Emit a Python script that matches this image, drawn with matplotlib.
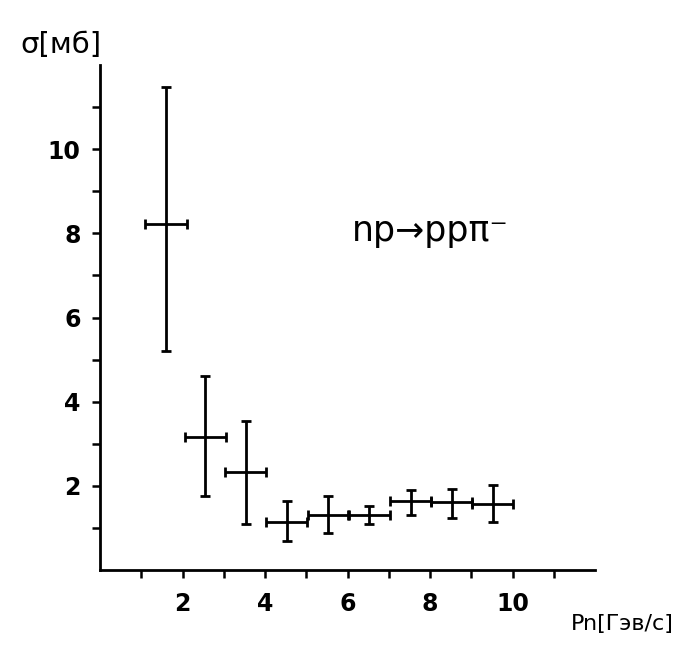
import matplotlib
matplotlib.use("Agg")
import matplotlib.pyplot as plt

# data: np -> pp pi- cross section vs neutron momentum
p_n = [1.6, 2.55, 3.53, 4.52, 5.53, 6.52, 7.53, 8.52, 9.52]
p_err = [0.5, 0.5, 0.5, 0.5, 0.5, 0.5, 0.5, 0.5, 0.5]
sigma = [8.22, 3.16, 2.32, 1.15, 1.30, 1.30, 1.65, 1.61, 1.57]
sigma_lo = [5.21, 1.77, 1.09, 0.70, 0.89, 1.09, 1.31, 1.23, 1.13]
sigma_hi = [11.47, 4.61, 3.54, 1.65, 1.75, 1.51, 1.91, 1.93, 2.03]

major_x = [2, 4, 6, 8, 10]
minor_x = [1, 3, 5, 7, 9, 11]
major_y = [2, 4, 6, 8, 10]
minor_y = [1, 3, 5, 7, 9, 11]

font = ["Liberation Sans Narrow", "DejaVu Sans"]

fig = plt.figure(figsize=(6.81, 6.47), dpi=100)
ax = fig.add_axes([0.1468, 0.119, 0.7272, 0.7805])

yerr = [[s - lo for s, lo in zip(sigma, sigma_lo)],
        [hi - s for s, hi in zip(sigma, sigma_hi)]]
ax.errorbar(p_n, sigma, xerr=p_err, yerr=yerr, fmt="none", ecolor="black",
            elinewidth=2.0, capsize=3.5, capthick=2.0)

ax.set_xlim(0, 12)
ax.set_ylim(0, 12)
for side in ["top", "right"]:
    ax.spines[side].set_visible(False)
for side in ["left", "bottom"]:
    ax.spines[side].set_linewidth(2.0)

ax.set_xticks(major_x)
ax.set_xticks(minor_x, minor=True)
ax.set_yticks(major_y)
ax.set_yticks(minor_y, minor=True)
ax.tick_params(which="both", direction="out", length=6, width=1.8, color="black")
ax.tick_params(axis="x", pad=10)
ax.tick_params(axis="y", pad=8)
for lab in ax.get_xticklabels() + ax.get_yticklabels():
    lab.set_fontfamily(font)
    lab.set_fontsize(17)
    lab.set_fontweight("bold")

ax.text(8.0, 8.05, "np→ppπ⁻", fontsize=25, family=font, ha="center", va="center")

fig.text(0.03, 0.93, "σ[мб]", fontsize=21, family=font, ha="left", va="center")
fig.text(0.99, 0.035, "Pn[Гэв/с]", fontsize=16, family=font, ha="right", va="center")

fig.savefig("out.png", dpi=100)
